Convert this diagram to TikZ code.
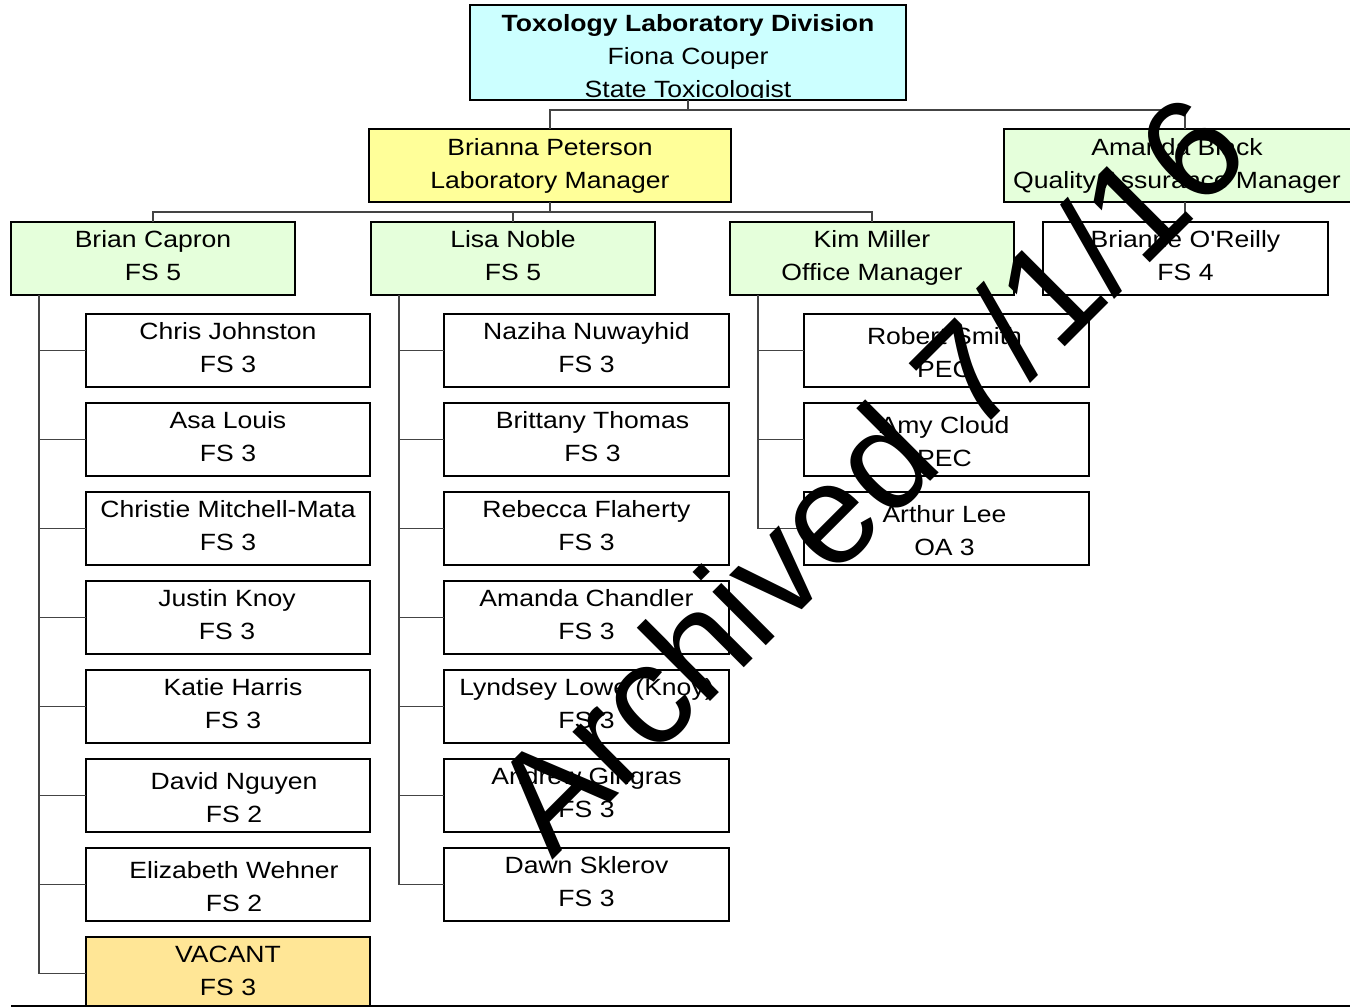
\documentclass[tikz,border=0pt]{standalone}
\usepackage{fontspec}
\setmainfont{Liberation Sans}[FakeStretch=1.13, Ligatures=TeXOff]
\newfontfamily\wmfont{Liberation Sans}
\definecolor{topc}{HTML}{CCFFFF}
\definecolor{yelc}{HTML}{FFFF99}
\definecolor{grnc}{HTML}{E5FFDB}
\definecolor{vacc}{HTML}{FFE696}
\definecolor{connc}{HTML}{444444}
\newcommand\obox[6]{\node[box,#2,minimum width=#5,minimum height=#6,anchor=north west] (#1) at (#3,#4) {};}
\newcommand\otext[5]{%
  \node[txt] (#1-1) at ([xshift=#2, yshift=-#3]#1.north) {#4};
  \node[txt] (#1-2) at ([xshift=#2, yshift=-#3-33]#1.north) {#5};}
\begin{document}
\begin{tikzpicture}[x=1pt,y=-1pt,
  box/.style={draw=black, line width=1.3pt, rectangle, inner sep=0pt, outer sep=0pt},
  txt/.style={anchor=base, inner sep=0pt, outer sep=0pt, font=\fontsize{23.5}{33}\selectfont},
  conn/.style={draw=connc, line width=1.3pt},
  wm/.style={inner sep=0pt, outer sep=0pt, text=black, font=\wmfont\fontsize{143}{143}\selectfont}]
\useasboundingbox[fill=white] (0,0) rectangle (1350,1007);

% top level
\obox{top}{fill=topc}{470}{5}{436}{95}
\begin{scope}
\clip (470,5) rectangle (906,97.5);
\node[txt,font=\fontsize{23.5}{33}\selectfont\bfseries] (top-1) at ([yshift=-26]top.north) {Toxology Laboratory Division};
\node[txt] (top-2) at ([yshift=-59]top.north) {Fiona Couper};
\node[txt] (top-3) at ([yshift=-92]top.north) {State Toxicologist};
\end{scope}

% second level
\obox{bri}{fill=yelc}{369}{129}{362}{73}
\otext{bri}{0}{26}{Brianna Peterson}{Laboratory Manager}
\obox{ama}{fill=grnc}{1004}{129}{362}{73}
\otext{ama}{-8}{26}{Amanda Black}{Quality Assurance Manager}

% third level
\obox{brian}{fill=grnc}{11}{222}{284}{73}
\otext{brian}{0}{25}{Brian Capron}{FS 5}
\obox{lisa}{fill=grnc}{371}{222}{284}{73}
\otext{lisa}{0}{25}{Lisa Noble}{FS 5}
\obox{kim}{fill=grnc}{730}{222}{284}{73}
\otext{kim}{0}{25}{Kim Miller}{Office Manager}
\obox{brianne}{fill=white}{1043}{222}{285}{73}
\otext{brianne}{0}{25}{Brianne O'Reilly}{FS 4}

% column 1
\obox{c1a}{fill=white}{86}{314}{284}{73}
\otext{c1a}{0}{25.5}{Chris Johnston}{FS 3}
\obox{c1b}{fill=white}{86}{403}{284}{73}
\otext{c1b}{0}{25.5}{Asa Louis}{FS 3}
\obox{c1c}{fill=white}{86}{492}{284}{73}
\otext{c1c}{0}{25.5}{Christie Mitchell-Mata}{FS 3}
\obox{c1d}{fill=white}{86}{581}{284}{73}
\otext{c1d}{-1}{25.5}{Justin Knoy}{FS 3}
\obox{c1e}{fill=white}{86}{670}{284}{73}
\otext{c1e}{5}{25.5}{Katie Harris}{FS 3}
\obox{c1f}{fill=white}{86}{759}{284}{73}
\otext{c1f}{6}{30}{David Nguyen}{FS 2}
\obox{c1g}{fill=white}{86}{848}{284}{73}
\otext{c1g}{6}{30}{Elizabeth Wehner}{FS 2}
\obox{c1h}{fill=vacc}{86}{937}{284}{73}
\otext{c1h}{0}{25}{VACANT}{FS 3}

% column 2
\obox{c2a}{fill=white}{444}{314}{285}{73}
\otext{c2a}{0}{25.5}{Naziha Nuwayhid}{FS 3}
\obox{c2b}{fill=white}{444}{403}{285}{73}
\otext{c2b}{6}{25.5}{Brittany Thomas}{FS 3}
\obox{c2c}{fill=white}{444}{492}{285}{73}
\otext{c2c}{0}{25.5}{Rebecca Flaherty}{FS 3}
\obox{c2d}{fill=white}{444}{581}{285}{73}
\otext{c2d}{0}{25.5}{Amanda Chandler}{FS 3}
\obox{c2e}{fill=white}{444}{670}{285}{73}
\otext{c2e}{0}{25.5}{Lyndsey Lowe (Knoy)}{FS 3}
\obox{c2f}{fill=white}{444}{759}{285}{73}
\otext{c2f}{0}{25.5}{Andrew Gingras}{FS 3}
\obox{c2g}{fill=white}{444}{848}{285}{73}
\otext{c2g}{0}{25.5}{Dawn Sklerov}{FS 3}

% column 3
\obox{c3a}{fill=white}{804}{314}{285}{73}
\otext{c3a}{-2}{30}{Robert Smith}{PEC}
\obox{c3b}{fill=white}{804}{403}{285}{73}
\otext{c3b}{-2}{30}{Amy Cloud}{PEC}
\obox{c3c}{fill=white}{804}{492}{285}{73}
\otext{c3c}{-2}{30}{Arthur Lee}{OA 3}

% connectors
\draw[conn] (top.south) -- ++(0,10) -| (bri.north);
\draw[conn] (top.south) -- ++(0,10) -| (ama.north);
\draw[conn] (bri.south) -- ++(0,10) -| (brian.north);
\draw[conn] (bri.south) -- ++(0,10) -| (lisa.north);
\draw[conn] (bri.south) -- ++(0,10) -| (kim.north);
\draw[conn] (ama.south) -- (ama.south |- brianne.north);
\foreach \c in {c1a,c1b,c1c,c1d,c1e,c1f,c1g,c1h}
  \draw[conn] ([xshift=28pt]brian.south west) |- (\c.west);
\foreach \c in {c2a,c2b,c2c,c2d,c2e,c2f,c2g}
  \draw[conn] ([xshift=28pt]lisa.south west) |- (\c.west);
\foreach \c in {c3a,c3b,c3c}
  \draw[conn] ([xshift=28pt]kim.south west) |- (\c.west);

% bottom rule
\coordinate (bl) at (11,1006);
\coordinate (br) at (1351,1006);
\draw[line width=1.5pt] (bl) -- (br);

% watermark
\node[wm, rotate=45, anchor=base west] (wmark) at (552,860) {Archived 7/1/16};
\end{tikzpicture}
\end{document}
